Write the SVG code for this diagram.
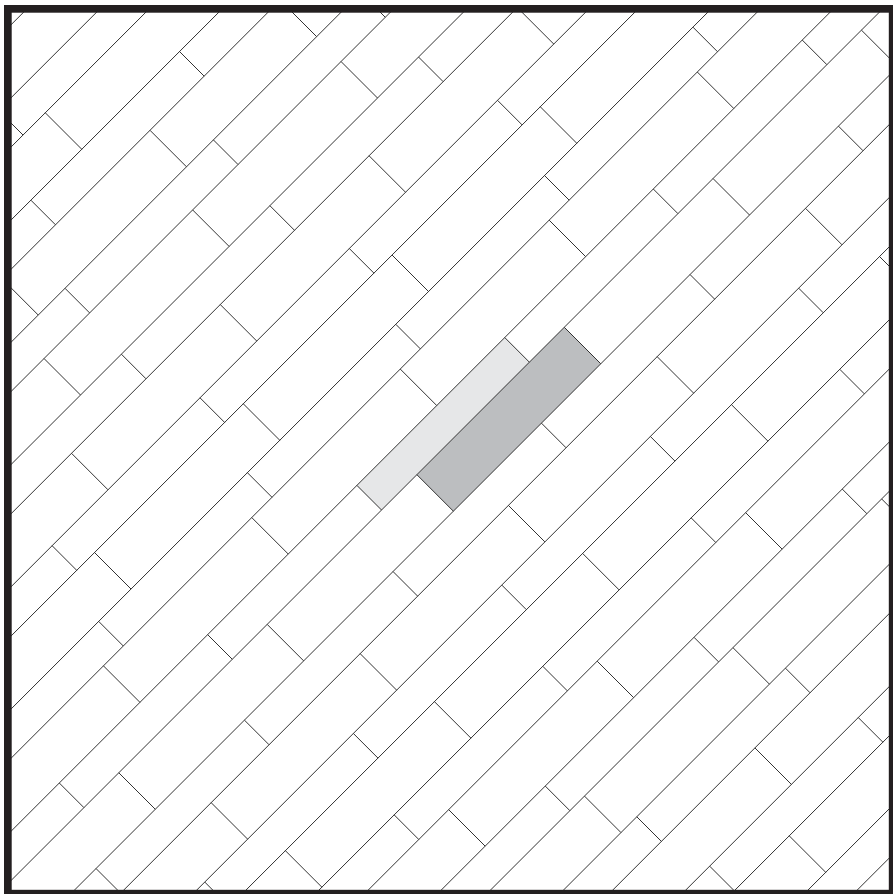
<svg xmlns="http://www.w3.org/2000/svg" width="893" height="894" viewBox="0 0 893 894">
  <style>
    .ln { fill: none; stroke: #333333; stroke-width: 1; }
    .frame { fill: none; stroke: #231f20; stroke-width: 7.7; }
    .light { fill: #e6e7e8; }
    .dark { fill: #bcbec0; }
  </style>
  <defs>
    <clipPath id="inner">
      <rect x="7.85" y="8.85" width="884.8" height="884.8"/>
    </clipPath>
  </defs>
  <rect x="0" y="0" width="893" height="894" fill="#ffffff"/>
  <g id="floor" clip-path="url(#inner)">
    <g id="highlighted-planks">
      <polygon id="plank-light" class="light" points="504.75,337.55 529.38,362.18 381.53,510.03 356.9,485.4"/>
      <polygon id="plank-dark" class="dark" points="564.28,327.28 600.78,363.78 453.38,511.18 416.88,474.68"/>
    </g>
    <g id="board-edges">
      <path class="ln" d="M45.8 -10L-10 45.8 M118.8 -10L-10 118.8 M168.05 -10L-10 168.05 M241.05 -10L-10 241.05 M290.3 -10L-10 290.3 M363.3 -10L-10 363.3 M412.55 -10L-10 412.55 M485.55 -10L-10 485.55 M534.8 -10L-10 534.8 M607.8 -10L-10 607.8 M657.05 -10L-10 657.05 M730.05 -10L-10 730.05 M779.3 -10L-10 779.3 M852.3 -10L-10 852.3 M901.55 -10L-10 901.55 M974.55 -10L-10 974.55 M1023.8 -10L-10 1023.8 M1096.8 -10L-10 1096.8 M1146.05 -10L-10 1146.05 M1219.05 -10L-10 1219.05 M1268.3 -10L-10 1268.3 M1341.3 -10L-10 1341.3 M1390.55 -10L-10 1390.55 M1463.55 -10L-10 1463.55 M1512.8 -10L-10 1512.8 M1585.8 -10L-10 1585.8 M1635.05 -10L-10 1635.05 M1708.05 -10L-10 1708.05 M1757.3 -10L-10 1757.3"/>
    </g>
    <g id="board-joints">
      <path class="ln" d="
        M-1.6 110.4L23.03 135.03
        M45.28 112.78L81.78 149.28
        M179.53 51.53L204.15 76.15 M30.88 200.18L55.5 224.8
        M280.15 0.15L316.65 36.65 M150 130.3L186.5 166.8 M1.75 278.55L38.25 315.05
        M360.65 -7.35L385.28 17.28 M213.4 139.9L238.03 164.53 M65 288.3L89.63 312.93
        M341.03 61.53L377.53 98.03 M192.63 209.93L229.13 246.43 M44.03 358.53L80.53 395.03
        M418.53 57.03L443.15 81.65 M269.88 205.68L294.5 230.3 M121.38 354.18L146 378.8
        M517.25 7.55L553.75 44.05 M369.05 155.75L405.55 192.25 M220.25 304.55L256.75 341.05 M71.5 453.3L108 489.8
        M497.5 100.3L522.13 124.93 M349.3 248.5L373.93 273.13 M200 397.8L224.63 422.43 M52.1 545.7L76.73 570.33
        M540.28 106.78L576.78 143.28 M392.03 255.03L428.53 291.53 M243.28 403.78L279.78 440.28 M94.53 552.53L131.03 589.03
        M692.93 27.13L717.55 51.75 M544.53 175.53L569.15 200.15 M395.78 324.28L420.4 348.9 M247.38 472.68L272 497.3 M98.68 621.38L123.3 646
        M697.3 72L733.8 108.5 M549.15 220.15L585.65 256.65 M400.25 369.05L436.75 405.55 M251.75 517.55L288.25 554.05 M103.45 665.85L139.95 702.35
        M802.25 40.05L826.88 64.68 M653.3 189L677.93 213.63 M504.75 337.55L529.38 362.18 M356.9 485.4L381.53 510.03 M207.65 634.65L232.28 659.28 M59.3 783L83.93 807.63
        M861.43 30.13L897.93 66.63 M713.03 178.53L749.53 215.03 M564.28 327.28L600.78 363.78 M416.88 474.68L453.38 511.18 M267.18 624.38L303.68 660.88 M118.78 772.78L155.28 809.28
        M838.43 126.13L863.05 150.75 M690.03 274.53L714.65 299.15 M541.43 423.13L566.05 447.75 M393.03 571.53L417.65 596.15 M244.43 720.13L269.05 744.75 M96.03 868.53L120.65 893.15
        M805.5 208.3L842 244.8 M657.15 356.65L693.65 393.15 M508.4 505.4L544.9 541.9 M360.15 653.65L396.65 690.15 M211.15 802.65L247.65 839.15
        M798.65 288.15L823.28 312.78 M650.35 436.45L674.98 461.08 M501.75 585.05L526.38 609.68 M353.35 733.45L377.98 758.08 M204.75 882.05L229.38 906.68
        M879.53 256.53L916.03 293.03 M731.43 404.63L767.93 441.13 M582.63 553.43L619.13 589.93 M434.43 701.63L470.93 738.13 M285.38 850.68L321.88 887.18
        M839.78 369.28L864.4 393.9 M691.18 517.88L715.8 542.5 M542.78 666.28L567.4 690.9 M394.18 814.88L418.8 839.5
        M745.65 512.65L782.15 549.15 M597.15 661.15L633.65 697.65 M448.65 809.65L485.15 846.15
        M842.25 489.05L866.88 513.68 M694 637.3L718.63 661.93 M545.25 786.05L569.88 810.68
        M881.63 498.93L918.13 535.43 M732.93 647.63L769.43 684.13 M584.48 796.08L620.98 832.58
        M785.43 668.13L810.05 692.75 M636.78 816.78L661.4 841.4
        M754.9 747.9L791.4 784.4
        M858.25 717.55L882.88 742.18 M709.65 866.15L734.28 890.78
        M789.23 835.83L825.73 872.33"/>
    </g>
  </g>
  <rect id="frame" class="frame" x="7.85" y="8.85" width="884.8" height="884.8"/>
</svg>
